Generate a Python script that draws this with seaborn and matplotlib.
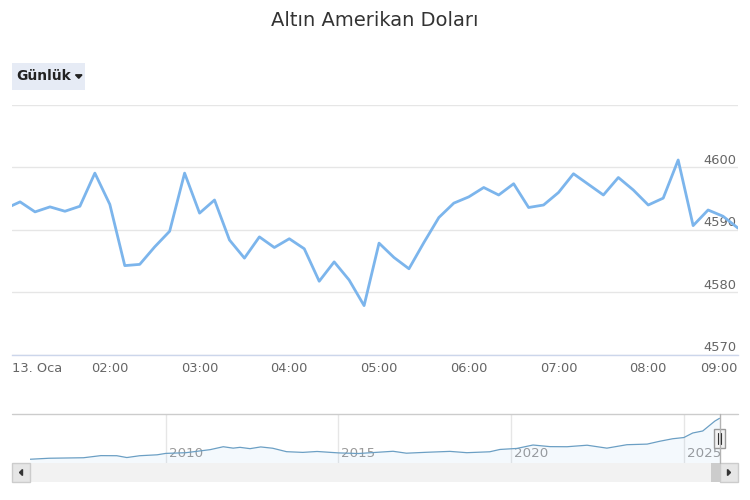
import pandas as pd
import seaborn as sns
import matplotlib.pyplot as plt
from matplotlib.patches import Rectangle, Polygon
from matplotlib.transforms import ScaledTranslation


# Veriler: 13 Ocak, 10 dakikalık altın fiyatı (USD)
baslangic = '2026-01-13 00:50'
fiyatlar = [
    4593.4, 4594.5, 4592.9, 4593.7, 4593.0, 4593.8, 4599.1, 4594.1, 4584.3, 4584.5,
    4587.3, 4589.8, 4599.1, 4592.7, 4594.8, 4588.4, 4585.5, 4588.9, 4587.2, 4588.6,
    4587.0, 4581.8, 4584.9, 4582.0, 4577.9, 4587.9, 4585.6, 4583.8, 4588.0, 4592.0,
    4594.3, 4595.3, 4596.8, 4595.6, 4597.4, 4593.6, 4594.0, 4596.0, 4599.0, 4597.3,
    4595.6, 4598.4, 4596.4, 4594.0, 4595.1, 4601.2, 4590.7, 4593.2, 4592.2, 4590.3,
]
saat_etiketleri = ['13. Oca', '02:00', '03:00', '04:00', '05:00',
                   '06:00', '07:00', '08:00', '09:00']
y_degerleri = [4570, 4580, 4590, 4600, 4610]
y_etiketleri = ['4570', '4580', '4590', '4600', '']

# Gezgin (navigator) serisi: uzun dönem
nav_tarihler = [
    '2006-01-26', '2006-08-15', '2007-08-15', '2008-02-15', '2008-08-01', '2008-11-15',
    '2009-04-01', '2009-10-01', '2010-01-01', '2010-08-01', '2011-04-15', '2011-09-01',
    '2011-12-15', '2012-02-25', '2012-06-10', '2012-10-01', '2013-02-05', '2013-07-01',
    '2013-12-20', '2014-05-20', '2015-01-01', '2015-08-01', '2016-08-01', '2016-12-20',
    '2017-07-20', '2018-03-25', '2018-09-20', '2019-05-20', '2019-09-05', '2020-03-01',
    '2020-08-20', '2021-02-15', '2021-08-15', '2022-03-15', '2022-10-10', '2023-05-10',
    '2023-12-10', '2024-04-20', '2024-09-05', '2025-01-01', '2025-04-05', '2025-07-20',
    '2025-10-05', '2025-11-25', '2026-01-13',
]
nav_degerler = [
    550, 650, 700, 910, 900, 720,
    900, 990, 1130, 1200, 1500, 1790,
    1650, 1730, 1600, 1770, 1640, 1300,
    1230, 1320, 1180, 1120, 1340, 1150,
    1240, 1330, 1200, 1290, 1520, 1620,
    1960, 1800, 1790, 1940, 1650, 1990,
    2050, 2330, 2580, 2700, 3150, 3350,
    3940, 4330, 4600,
]
nav_yillar = ['2010', '2015', '2020', '2025']

zaman = pd.date_range(baslangic, periods=len(fiyatlar), freq='10min')
df = pd.DataFrame({'zaman': zaman, 'fiyat': fiyatlar})
df_nav = pd.DataFrame({'tarih': pd.to_datetime(nav_tarihler), 'deger': nav_degerler})

sns.set_style('white')
plt.rcParams['font.family'] = ['DejaVu Sans']

W, H = 750, 500
fig = plt.figure(figsize=(7.5, 5), dpi=100)


def kutu(sol, ust, sag, alt):
    return [sol / W, 1 - alt / H, (sag - sol) / W, (alt - ust) / H]


def kaydir(px, py):
    return ScaledTranslation(px / 100, py / 100, fig.dpi_scale_trans)


# Ana grafik
ax = fig.add_axes(kutu(12, 105, 738, 355))
sns.lineplot(data=df, x='zaman', y='fiyat', ax=ax, color='#7cb5ec', linewidth=2)

ax.set_xlim(pd.Timestamp('2026-01-13 00:54:36'), pd.Timestamp('2026-01-13 09:00'))
ax.set_ylim(4570, 4610)
ax.set_xlabel('')
ax.set_ylabel('')

saatler = pd.date_range('2026-01-13 01:00', periods=len(saat_etiketleri), freq='h')
ax.set_xticks(saatler)
ax.set_xticklabels(saat_etiketleri)
ax.tick_params(axis='x', length=3.8, width=1, color='#ccd6eb', labelsize=9.4,
               labelcolor='#666666', pad=1.5)
xl = ax.get_xticklabels()
xl[0].set_horizontalalignment('left')
xl[0].set_transform(xl[0].get_transform() + kaydir(-8, 0))
xl[-1].set_horizontalalignment('right')

ax.yaxis.tick_right()
ax.set_yticks(y_degerleri)
ax.set_yticklabels(y_etiketleri)
ax.tick_params(axis='y', length=0, labelsize=9.4, labelcolor='#666666', pad=-1)
for lab in ax.get_yticklabels():
    lab.set_horizontalalignment('right')
    lab.set_transform(lab.get_transform() + kaydir(0, 8.5))

ax.grid(axis='y', color='#e6e6e6', linewidth=1)
ax.grid(axis='x', visible=False)
for s in ['top', 'left', 'right']:
    ax.spines[s].set_visible(False)
ax.spines['bottom'].set_color('#ccd6eb')
ax.spines['bottom'].set_linewidth(1)

# Gezgin
nav = fig.add_axes(kutu(30, 414.3, 719.5, 463.3))
nav.fill_between(df_nav['tarih'], df_nav['deger'], 0, color='#7cb5ec', alpha=0.08, linewidth=0)
sns.lineplot(data=df_nav, x='tarih', y='deger', ax=nav, color='#6b9fc4', linewidth=0.9)
nav.set_xlim(df_nav['tarih'].iloc[0], df_nav['tarih'].iloc[-1])
nav.set_ylim(150, 5000)
nav.set_xlabel('')
nav.set_ylabel('')
nav.set_yticks([])
nav.set_xticks(pd.to_datetime([y + '-01-01' for y in nav_yillar]))
nav.set_xticklabels(nav_yillar)
nav.tick_params(axis='x', length=0, labelsize=9.6, labelcolor='#999999', pad=-11.5)
for lab in nav.get_xticklabels():
    lab.set_horizontalalignment('left')
    lab.set_transform(lab.get_transform() + kaydir(3, 0))
nav.grid(axis='x', color='#e6e6e6', linewidth=1)
for s in nav.spines.values():
    s.set_visible(False)

# Süslemeler: düğme, kaydırma çubuğu, tutamak
deko = fig.add_axes([0, 0, 1, 1], zorder=5)
deko.set_xlim(0, W)
deko.set_ylim(H, 0)
deko.axis('off')

deko.add_patch(Rectangle((12, 62.5), 73, 27, facecolor='#e6ebf5', edgecolor='none'))
deko.text(16, 76.5, 'Günlük', fontsize=10, fontweight='bold', color='#222222', va='center')
deko.add_patch(Polygon([(75.5, 74.8), (82, 74.8), (78.75, 78.3)], closed=True, color='#222222'))

deko.plot([12, 738], [414.3, 414.3], color='#cccccc', linewidth=1)
deko.plot([719.5, 719.5], [414.3, 463.3], color='#b3b3b3', linewidth=1)

deko.add_patch(Rectangle((12, 463.3), 726, 18.4, facecolor='#f2f2f2', edgecolor='none'))
deko.add_patch(Rectangle((12, 463.3), 18, 18.4, facecolor='#e6e6e6', edgecolor='#cccccc', linewidth=1))
deko.add_patch(Rectangle((711, 463.3), 8.5, 18.4, facecolor='#cccccc', edgecolor='none'))
deko.add_patch(Rectangle((719.5, 463.3), 18.5, 18.4, facecolor='#e6e6e6', edgecolor='#cccccc', linewidth=1))
deko.add_patch(Polygon([(19.5, 472.5), (22.5, 469.5), (22.5, 475.5)], closed=True, color='#333333'))
deko.add_patch(Polygon([(730.5, 472.5), (727.5, 469.5), (727.5, 475.5)], closed=True, color='#333333'))

deko.add_patch(Rectangle((714, 429), 11, 19, facecolor='#f2f2f2', edgecolor='#999999', linewidth=1))
deko.plot([718, 718], [433, 444], color='#333333', linewidth=0.8)
deko.plot([721, 721], [433, 444], color='#333333', linewidth=0.8)

fig.text(0.5, 1 - 20 / H, 'Altın Amerikan Doları', ha='center', va='center',
         fontsize=14, color='#333333')

fig.savefig('out.png', dpi=100)
